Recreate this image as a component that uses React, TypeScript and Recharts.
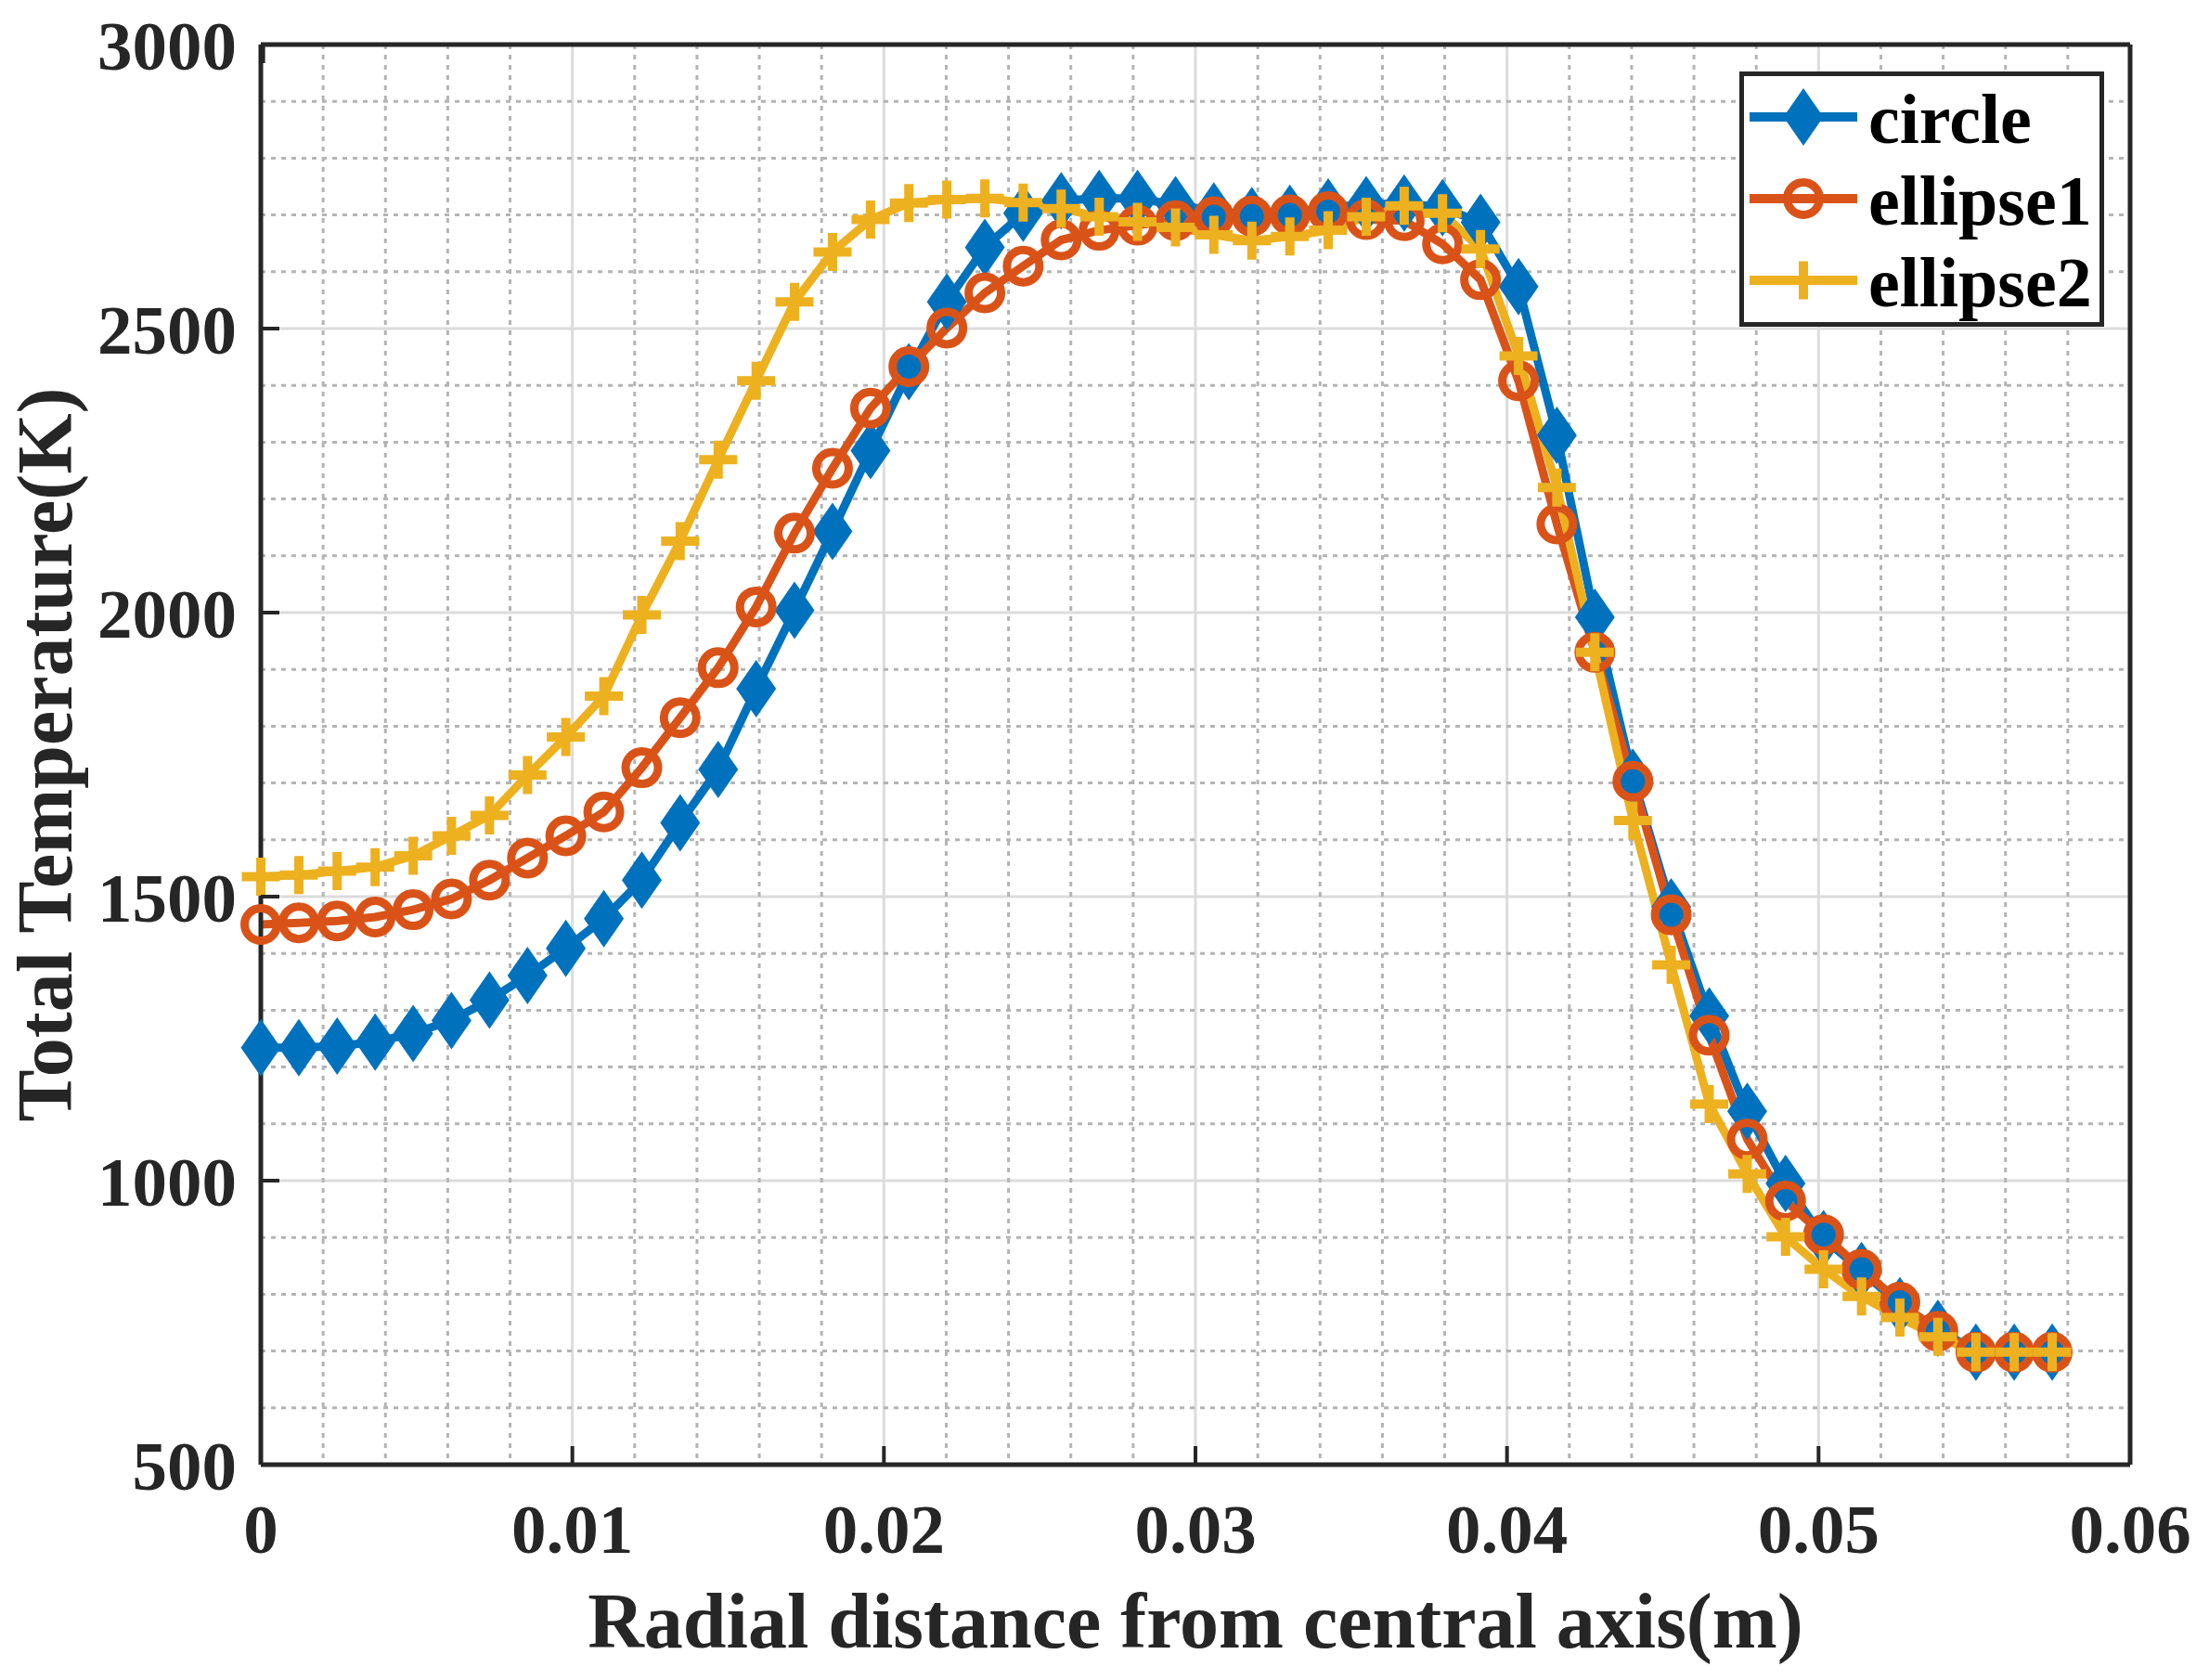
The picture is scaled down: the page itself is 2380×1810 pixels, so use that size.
import React from 'react';
import { LineChart, Line, XAxis, YAxis, CartesianGrid, Legend } from 'recharts';

// radial positions (m)
const X_POS = [
  0, 0.00122, 0.00245, 0.00367, 0.00489, 0.00612, 0.00734, 0.00856, 0.00979, 0.01101,
  0.01223, 0.01346, 0.01468, 0.0159, 0.01713, 0.01835, 0.01957, 0.0208, 0.02202, 0.02324,
  0.02447, 0.02569, 0.02691, 0.02814, 0.02936, 0.03059, 0.03181, 0.03303, 0.03426, 0.03548,
  0.0367, 0.03793, 0.03915, 0.04037, 0.0416, 0.04282, 0.04404, 0.04527, 0.04649, 0.04771,
  0.04894, 0.05016, 0.05138, 0.05261, 0.05383, 0.05505, 0.05628, 0.0575,
];

// total temperature (K)
const CIRCLE = [
  1234, 1234, 1237, 1244, 1259, 1282, 1318, 1361, 1409, 1461,
  1529, 1630, 1724, 1866, 2004, 2143, 2285, 2424, 2547, 2643,
  2703, 2725, 2729, 2729, 2718, 2707, 2699, 2703, 2714, 2718,
  2721, 2713, 2687, 2574, 2312, 1992, 1710, 1482, 1290, 1122,
  995, 898, 842, 780, 740, 698, 698, 698,
];
const ELLIPSE1 = [
  1451, 1454, 1457, 1464, 1477, 1496, 1529, 1568, 1607, 1649,
  1727, 1815, 1903, 2010, 2140, 2254, 2360, 2433, 2501, 2563,
  2610, 2656, 2673, 2682, 2690, 2697, 2698, 2700, 2706, 2692,
  2690, 2649, 2586, 2408, 2156, 1930, 1703, 1468, 1256, 1073,
  964, 905, 844, 786, 735, 698, 698, 698,
];
const ELLIPSE2 = [
  1535, 1538, 1545, 1552, 1572, 1607, 1643, 1714, 1781, 1853,
  1996, 2126, 2269, 2408, 2547, 2635, 2692, 2721, 2727, 2729,
  2722, 2711, 2697, 2688, 2678, 2665, 2655, 2662, 2673, 2697,
  2716, 2703, 2640, 2452, 2220, 1930, 1634, 1380, 1135, 1012,
  901, 844, 796, 759, 725, 698, 698, 698,
];

const SERIES = ['circle', 'ellipse1', 'ellipse2'];

const X_TICKS = [0, 0.01, 0.02, 0.03, 0.04, 0.05, 0.06];
const Y_TICKS = [500, 1000, 1500, 2000, 2500, 3000];
const X_MINOR = [
  0.002, 0.004, 0.006, 0.008, 0.012, 0.014, 0.016, 0.018, 0.022, 0.024, 0.026, 0.028,
  0.032, 0.034, 0.036, 0.038, 0.042, 0.044, 0.046, 0.048, 0.052, 0.054, 0.056, 0.058,
];
const Y_MINOR = [
  600, 700, 800, 900, 1100, 1200, 1300, 1400, 1600, 1700, 1800, 1900,
  2100, 2200, 2300, 2400, 2600, 2700, 2800, 2900,
];

const BLUE = '#0072BD';
const ORANGE = '#D95319';
const YELLOW = '#EDB120';
const COLORS = [BLUE, ORANGE, YELLOW];
const INK = '#262626';
const FONT = '"Liberation Serif", "Times New Roman", serif';

const TICK_LEN = 20; // inward tick marks, as in MATLAB
const X_GAP = 42;
const Y_GAP = 26;

const data = X_POS.map((x, i) => ({
  x,
  circle: CIRCLE[i],
  ellipse1: ELLIPSE1[i],
  ellipse2: ELLIPSE2[i],
}));

function marker(kind: number, cx: number, cy: number, key?: string) {
  if (kind === 0) {
    return (
      <path
        key={key}
        d={`M${cx},${cy - 31}L${cx + 21.5},${cy}L${cx},${cy + 31}L${cx - 21.5},${cy}Z`}
        fill={BLUE}
      />
    );
  }
  if (kind === 1) {
    return <circle key={key} cx={cx} cy={cy} r={17.5} fill="none" stroke={ORANGE} strokeWidth={9} />;
  }
  return (
    <path
      key={key}
      d={`M${cx - 20.5},${cy}H${cx + 20.5}M${cx},${cy - 20.5}V${cy + 20.5}`}
      stroke={YELLOW}
      strokeWidth={10}
      fill="none"
    />
  );
}

const dotFor = (kind: number) => (props: any) => {
  const { cx, cy, index } = props;
  const key = `m-${kind}-${index}`;
  if (cx == null || cy == null) return <g key={key} />;
  return marker(kind, cx, cy, key);
};

const textProps = { fontFamily: FONT, fontWeight: 700, fontSize: 75, fill: INK };

const BottomTick = (p: any) => {
  const v = p.payload.value;
  const axisY = p.y - X_GAP;
  return (
    <g>
      <line x1={p.x} x2={p.x} y1={axisY} y2={axisY - TICK_LEN} stroke={INK} strokeWidth={4} />
      <text x={p.x} y={p.y} dy="0.71em" textAnchor="middle" {...textProps}>
        {v === 0 ? '0' : String(v)}
      </text>
    </g>
  );
};

const LeftTick = (p: any) => {
  const axisX = p.x + Y_GAP;
  return (
    <g>
      <line x1={axisX} x2={axisX + TICK_LEN} y1={p.y} y2={p.y} stroke={INK} strokeWidth={4} />
      <text x={p.x} y={p.y} dy="0.355em" textAnchor="end" {...textProps}>
        {p.payload.value}
      </text>
    </g>
  );
};

const TopTick = (p: any) => (
  <line x1={p.x} x2={p.x} y1={p.y} y2={p.y + TICK_LEN} stroke={INK} strokeWidth={4} />
);

const RightTick = (p: any) => (
  <line x1={p.x} x2={p.x - TICK_LEN} y1={p.y} y2={p.y} stroke={INK} strokeWidth={4} />
);

const LegendBox = () => (
  <div
    style={{
      width: 393,
      height: 275,
      boxSizing: 'border-box',
      border: `5px solid ${INK}`,
      background: '#fff',
    }}
  >
    {SERIES.map((name, i) => (
      <div key={name} style={{ display: 'flex', alignItems: 'center', height: 88 }}>
        <svg width={128} height={88} style={{ display: 'block' }}>
          <line x1={6} x2={122} y1={44} y2={44} stroke={COLORS[i]} strokeWidth={10} />
          {marker(i, 64, 44)}
        </svg>
        <span
          style={{
            fontFamily: FONT,
            fontWeight: 700,
            fontSize: 76,
            lineHeight: '88px',
            color: '#000',
            marginLeft: 6,
            paddingTop: 4,
          }}
        >
          {name}
        </span>
      </div>
    ))}
  </div>
);

const axisLine = { stroke: INK, strokeWidth: 5 };

export default function App() {
  return (
    <div style={{ position: 'absolute', left: 0, top: 0, width: 2380, height: 1810, background: '#fff' }}>
      <LineChart
        width={2380}
        height={1810}
        data={data}
        margin={{ top: 47, right: 84, bottom: 0, left: 0 }}
      >
        <CartesianGrid stroke="#dcdcdc" strokeWidth={3} />
        <CartesianGrid
          horizontalValues={Y_MINOR}
          verticalValues={X_MINOR}
          stroke="#b4b4b4"
          strokeWidth={3}
          strokeDasharray="5 6"
        />
        <XAxis
          dataKey="x"
          type="number"
          domain={[0, 0.06]}
          ticks={X_TICKS}
          interval={0}
          height={232}
          tickSize={0}
          tickMargin={X_GAP}
          axisLine={axisLine}
          tickLine={false}
          tick={BottomTick}
          label={{
            content: (p: any) => {
              const vb = p.viewBox || { x: 281, y: 1578, width: 2014, height: 232 };
              return (
                <text
                  x={vb.x + vb.width / 2}
                  y={vb.y + vb.height - 35}
                  textAnchor="middle"
                  fontFamily={FONT}
                  fontWeight={700}
                  fontSize={84}
                  fill={INK}
                >
                  Radial distance from central axis(m)
                </text>
              );
            },
          }}
        />
        <XAxis
          xAxisId="top"
          orientation="top"
          type="number"
          domain={[0, 0.06]}
          ticks={X_TICKS}
          interval={0}
          height={1}
          tickSize={0}
          tickMargin={0}
          axisLine={axisLine}
          tickLine={false}
          tick={TopTick}
        />
        <YAxis
          type="number"
          domain={[500, 3000]}
          ticks={Y_TICKS}
          interval={0}
          width={281}
          tickSize={0}
          tickMargin={Y_GAP}
          axisLine={axisLine}
          tickLine={false}
          tick={LeftTick}
          label={{
            content: (p: any) => {
              const vb = p.viewBox || { x: 0, y: 48, width: 281, height: 1530 };
              const lx = vb.x + 77;
              const ly = vb.y + vb.height / 2;
              return (
                <text
                  x={lx}
                  y={ly}
                  transform={`rotate(-90 ${lx} ${ly})`}
                  textAnchor="middle"
                  fontFamily={FONT}
                  fontWeight={700}
                  fontSize={84}
                  fill={INK}
                >
                  Total Temperature(K)
                </text>
              );
            },
          }}
        />
        <YAxis
          yAxisId="right"
          orientation="right"
          type="number"
          domain={[500, 3000]}
          ticks={Y_TICKS}
          interval={0}
          width={1}
          tickSize={0}
          tickMargin={0}
          axisLine={axisLine}
          tickLine={false}
          tick={RightTick}
        />
        <Legend
          layout="horizontal"
          verticalAlign="middle"
          align="center"
          content={LegendBox}
          wrapperStyle={{ left: 1874, top: 77, width: 393, height: 275 }}
        />
        {SERIES.map((name, i) => (
          <Line
            key={name}
            type="linear"
            dataKey={name}
            name={name}
            stroke={COLORS[i]}
            strokeWidth={9}
            dot={dotFor(i)}
            activeDot={false}
            isAnimationActive={false}
          />
        ))}
      </LineChart>
    </div>
  );
}
